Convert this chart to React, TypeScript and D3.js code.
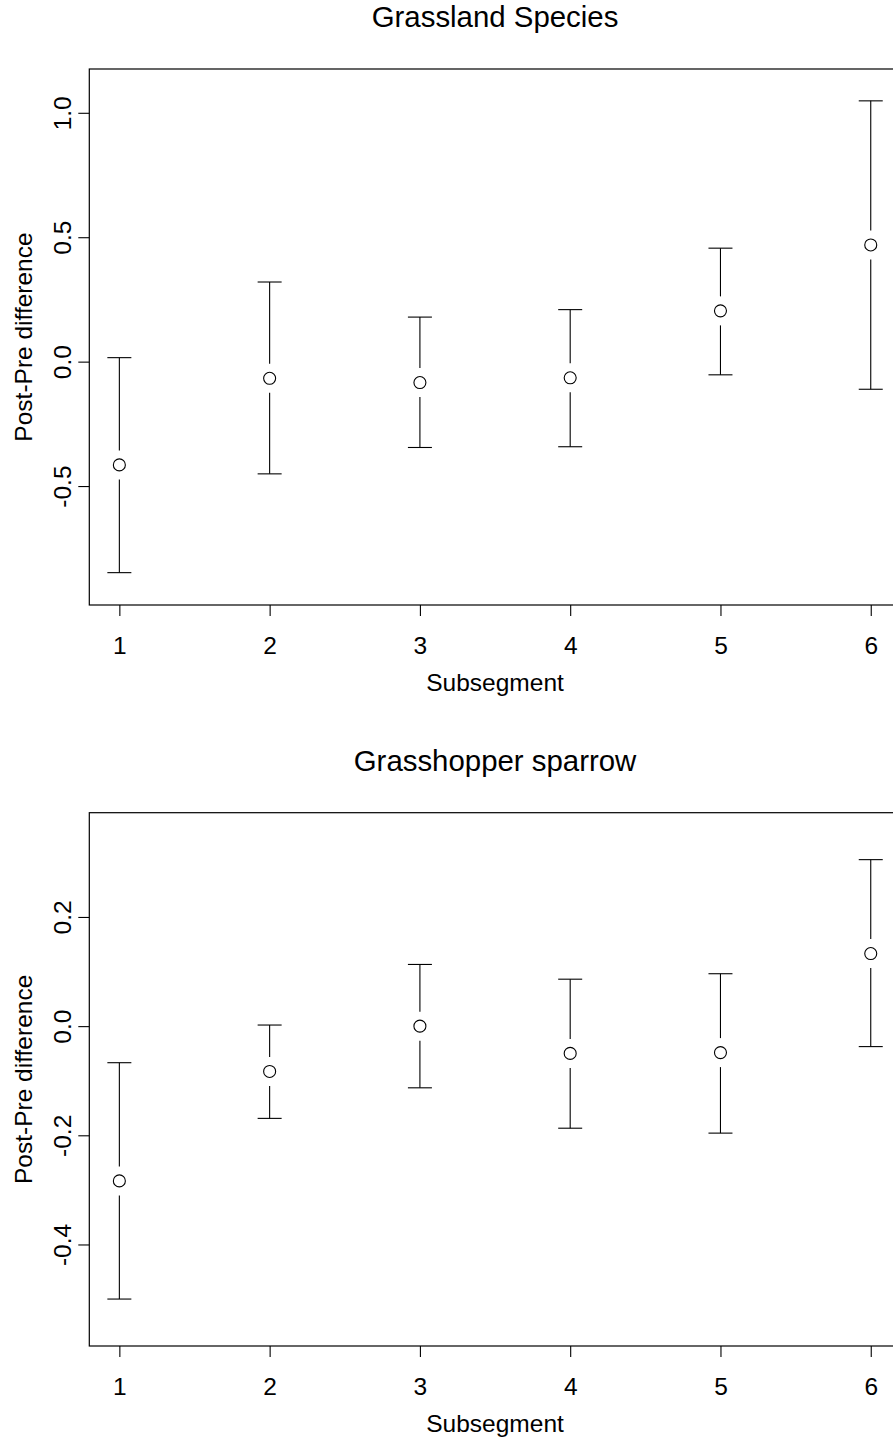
import { useRef, useEffect } from "react";
import * as d3 from "d3";

const subsegments = [1, 2, 3, 4, 5, 6];

const grassMean = [-0.415, -0.067, -0.084, -0.065, 0.204, 0.469];
const grassLower = [-0.848, -0.451, -0.345, -0.342, -0.053, -0.111];
const grassUpper = [0.016, 0.32, 0.179, 0.209, 0.456, 1.048];
const grassTicks = [-0.5, 0, 0.5, 1.0];

const sparrowMean = [-0.2835, -0.083, 0.0, -0.05, -0.0485, 0.133];
const sparrowLower = [-0.5, -0.169, -0.113, -0.187, -0.196, -0.0375];
const sparrowUpper = [-0.067, 0.002, 0.113, 0.086, 0.096, 0.305];
const sparrowTicks = [-0.4, -0.2, 0.0, 0.2];

const W = 893;
const H = 1437;
const FONT = "'Liberation Sans', Arial, Helvetica, sans-serif";
const AXIS_SIZE = 24.5;
const TITLE_SIZE = 29.4;

type PanelSpec = {
  title: string;
  mean: number[];
  lower: number[];
  upper: number[];
  ticks: number[];
  yDomain: [number, number];
  top: number;
  bottom: number;
};

const panels: PanelSpec[] = [
  {
    title: "Grassland Species",
    mean: grassMean,
    lower: grassLower,
    upper: grassUpper,
    ticks: grassTicks,
    yDomain: [-0.978, 1.176],
    top: 69,
    bottom: 605,
  },
  {
    title: "Grasshopper sparrow",
    mean: sparrowMean,
    lower: sparrowLower,
    upper: sparrowUpper,
    ticks: sparrowTicks,
    yDomain: [-0.586, 0.391],
    top: 812.7,
    bottom: 1346,
  },
];

export default function App() {
  const svgRef = useRef<SVGSVGElement>(null);

  useEffect(() => {
    if (!svgRef.current) return;
    const svg = d3.select(svgRef.current);
    svg.selectAll("*").remove();

    svg.append("rect").attr("width", W).attr("height", H).attr("fill", "#fff");

    const left = 89.3;
    const right = 900.8;
    const x = d3.scaleLinear().domain([0.8, 6.2]).range([left, right]);
    const cx = (left + right) / 2;

    panels.forEach((p) => {
      const y = d3.scaleLinear().domain(p.yDomain).range([p.bottom, p.top]);
      const g = svg.append("g");

      // box
      g.append("rect")
        .attr("x", left)
        .attr("y", p.top)
        .attr("width", right - left)
        .attr("height", p.bottom - p.top)
        .attr("fill", "none")
        .attr("stroke", "#000")
        .attr("stroke-width", 1.2);

      // x axis
      const xa = g
        .append("g")
        .attr("transform", `translate(0,${p.bottom})`)
        .call(
          d3
            .axisBottom(x)
            .tickValues(subsegments)
            .tickSize(11)
            .tickSizeOuter(0)
            .tickFormat(d3.format("d")),
        );
      xa.select(".domain").remove();
      xa.selectAll("text")
        .attr("y", 49)
        .attr("dy", null)
        .attr("fill", "#000")
        .style("font-size", `${AXIS_SIZE}px`)
        .style("font-family", FONT);

      // y axis
      const ya = g
        .append("g")
        .attr("transform", `translate(${left},0)`)
        .call(
          d3
            .axisLeft(y)
            .tickValues(p.ticks)
            .tickSize(11)
            .tickSizeOuter(0)
            .tickFormat(d3.format(".1f")),
        );
      ya.select(".domain").remove();
      ya.selectAll("text")
        .attr("x", null)
        .attr("dy", null)
        .attr("text-anchor", "middle")
        .attr("transform", "translate(-18.3,0) rotate(-90)")
        .attr("fill", "#000")
        .style("font-size", `${AXIS_SIZE}px`)
        .style("font-family", FONT)
        .text((d) => d3.format(".1f")(d as number).replace("−", "-"));

      g.selectAll(".tick line").attr("stroke", "#000").attr("stroke-width", 1.1);

      // error bars with gap around the point
      const gap = 14.5;
      const cap = 12;
      const bars = g
        .selectAll(".bar")
        .data(subsegments)
        .join("g")
        .attr("stroke", "#000")
        .attr("stroke-width", 1.1);

      bars
        .append("line")
        .attr("x1", (d) => x(d))
        .attr("x2", (d) => x(d))
        .attr("y1", (_, i) => y(p.upper[i]))
        .attr("y2", (_, i) => y(p.mean[i]) - gap);
      bars
        .append("line")
        .attr("x1", (d) => x(d))
        .attr("x2", (d) => x(d))
        .attr("y1", (_, i) => y(p.mean[i]) + gap)
        .attr("y2", (_, i) => y(p.lower[i]));
      bars
        .append("line")
        .attr("x1", (d) => x(d) - cap)
        .attr("x2", (d) => x(d) + cap)
        .attr("y1", (_, i) => y(p.upper[i]))
        .attr("y2", (_, i) => y(p.upper[i]));
      bars
        .append("line")
        .attr("x1", (d) => x(d) - cap)
        .attr("x2", (d) => x(d) + cap)
        .attr("y1", (_, i) => y(p.lower[i]))
        .attr("y2", (_, i) => y(p.lower[i]));
      bars
        .append("circle")
        .attr("cx", (d) => x(d))
        .attr("cy", (_, i) => y(p.mean[i]))
        .attr("r", 6)
        .attr("fill", "#fff");

      // titles
      g.append("text")
        .attr("x", cx)
        .attr("y", p.top - 42)
        .attr("text-anchor", "middle")
        .style("font-size", `${TITLE_SIZE}px`)
        .style("font-family", FONT)
        .text(p.title);

      g.append("text")
        .attr("x", cx)
        .attr("y", p.bottom + 86)
        .attr("text-anchor", "middle")
        .style("font-size", `${AXIS_SIZE}px`)
        .style("font-family", FONT)
        .text("Subsegment");

      g.append("text")
        .attr(
          "transform",
          `translate(32,${(p.top + p.bottom) / 2}) rotate(-90)`,
        )
        .attr("text-anchor", "middle")
        .style("font-size", `${AXIS_SIZE}px`)
        .style("font-family", FONT)
        .text("Post-Pre difference");
    });
  }, []);

  return (
    <svg
      ref={svgRef}
      width={W}
      height={H}
      viewBox={`0 0 ${W} ${H}`}
      style={{ position: "absolute", left: 0, top: 0, display: "block" }}
    />
  );
}
